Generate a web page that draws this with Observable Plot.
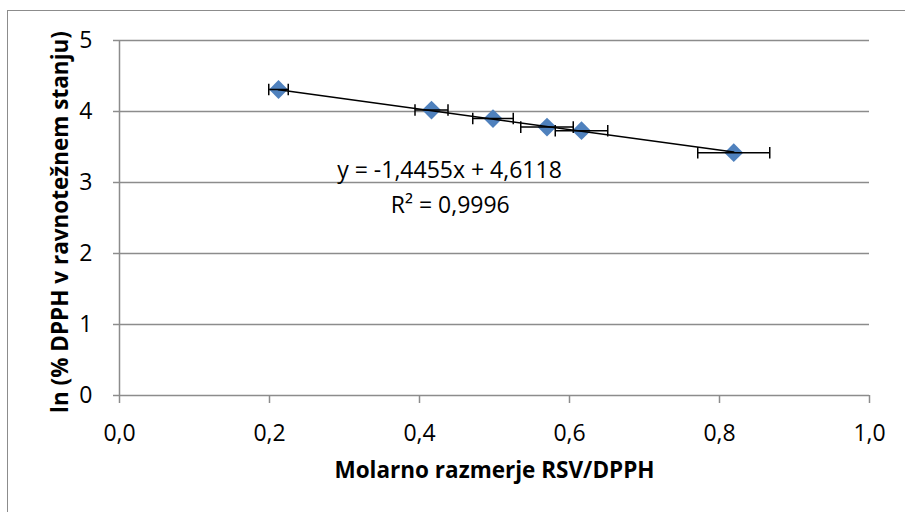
<!DOCTYPE html>
<html><head><meta charset="utf-8">
<script src="https://cdn.jsdelivr.net/npm/d3@7"></script>
<script src="https://cdn.jsdelivr.net/npm/@observablehq/plot@0.6"></script>
<style>
html,body{margin:0;padding:0;background:#fff;}
#wrap{position:relative;width:905px;height:512px;overflow:hidden;}
#wrap svg{position:absolute;left:0;top:0;}
#frame{position:absolute;left:7px;top:10px;width:920px;height:520px;border:1.5px solid #8c8c8c;box-sizing:border-box;pointer-events:none;}
</style></head><body><div id="wrap"><div id="frame"></div></div>
<script>
// Data
const ratio    = [0.212, 0.416, 0.498, 0.570, 0.616, 0.819];   // Molarno razmerje RSV/DPPH
const lnDPPH   = [4.31, 4.02, 3.90, 3.78, 3.73, 3.42];         // ln (% DPPH)
const ratioErr = [0.013, 0.022, 0.027, 0.035, 0.035, 0.048];   // horizontal error
const xTicks = [0, 0.2, 0.4, 0.6, 0.8, 1.0];
const yTicks = [0, 1, 2, 3, 4, 5];
const slope = -1.4455, intercept = 4.6118;
const equationLabels = ["y = -1,4455x + 4,6118", "R² = 0,9996"];
const xTitle = ["Molarno razmerje RSV/DPPH"];
const yTitle = ["ln (% DPPH v ravnotežnem stanju)"];

const points = ratio.map((x, i) => ({x, y: lnDPPH[i], e: ratioErr[i]}));
const xmin = d3.min(ratio), xmax = d3.max(ratio);
const trend = [{x: xmin, y: slope * xmin + intercept}, {x: xmax, y: slope * xmax + intercept}];

const capSymbol = {draw(context, size) { const h = Math.sqrt(size) / 2; context.moveTo(0, -h); context.lineTo(0, h); }};
const grey = "#8c8c8c";
const font = "'Open Sans', sans-serif";

const chart = Plot.plot({
  width: 905, height: 512,
  marginLeft: 119, marginRight: 36, marginTop: 40, marginBottom: 117,
  style: {fontFamily: font, fontSize: "23px", color: "#000", background: "transparent"},
  x: {domain: [0, 1]},
  y: {domain: [0, 5]},
  marks: [
    Plot.gridY(yTicks, {stroke: grey, strokeOpacity: 1, strokeWidth: 1.5}),
    Plot.ruleX([0], {stroke: grey, strokeWidth: 1.5}),
    Plot.axisX(xTicks, {tickSize: 8, text: null, stroke: grey, strokeWidth: 1.5, strokeOpacity: 1, label: null}),
    Plot.axisX(xTicks, {tickSize: 0, tickPadding: 29, tickFormat: d => d.toFixed(1).replace(".", ","), fontSize: 23, label: null}),
    Plot.axisY(yTicks, {tickSize: 6, text: null, stroke: grey, strokeWidth: 1.5, strokeOpacity: 1, label: null}),
    Plot.axisY(yTicks, {tickSize: 0, tickPadding: 27, tickFormat: d => String(d), fontSize: 23, label: null}),
    Plot.dot(points, {x: "x", y: "y", symbol: "diamond2", r: 8.5, fill: "#4F81BD"}),
    Plot.link(points, {x1: d => d.x - d.e, x2: d => d.x + d.e, y1: "y", y2: "y", stroke: "#000", strokeWidth: 1.5}),
    Plot.dot(points, {x: d => d.x - d.e, y: "y", symbol: capSymbol, r: 6.5, stroke: "#000", strokeWidth: 1.5, fill: "none"}),
    Plot.dot(points, {x: d => d.x + d.e, y: "y", symbol: capSymbol, r: 6.5, stroke: "#000", strokeWidth: 1.5, fill: "none"}),
    Plot.line(trend, {x: "x", y: "y", stroke: "#000", strokeWidth: 1.5}),
    Plot.text([equationLabels[0]], {x: 0.44, y: 3.17, fontSize: 23, fill: "#000"}),
    Plot.text([equationLabels[1]], {x: 0.441, y: 2.68, fontSize: 23, fill: "#000"}),
    Plot.text(xTitle, {frameAnchor: "bottom", dy: 75, textAnchor: "middle", lineAnchor: "middle", fontSize: 22.5, fontWeight: "bold", fill: "#000"}),
    Plot.text(yTitle, {frameAnchor: "left", dx: -59, dy: 4, rotate: -90, textAnchor: "middle", lineAnchor: "middle", fontSize: 22.5, fontWeight: "bold", fill: "#000"})
  ]
});
document.getElementById("wrap").prepend(chart);
</script>
</body></html>
